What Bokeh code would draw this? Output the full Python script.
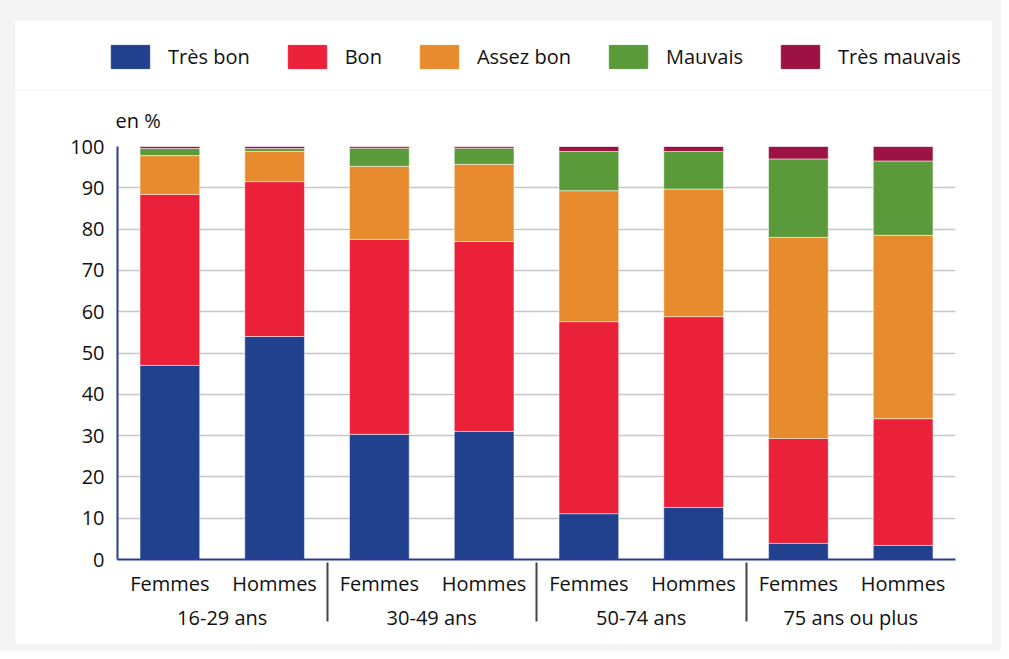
from bokeh.plotting import figure
from bokeh.models import FactorRange, Range1d, FixedTicker, Legend, LegendItem, Title, ColumnDataSource
from bokeh.layouts import column
from bokeh.embed import file_html
from bokeh.resources import INLINE

groups = ["16-29 ans", "30-49 ans", "50-74 ans", "75 ans ou plus"]
sexes = ["Femmes", "Hommes"]
categories = ["Très bon", "Bon", "Assez bon", "Mauvais", "Très mauvais"]

tres_bon = [47.0, 54.0, 30.3, 31.0, 11.1, 12.6, 3.9, 3.4]
bon = [41.4, 37.5, 47.2, 46.0, 46.5, 46.2, 25.4, 30.7]
assez_bon = [9.4, 7.3, 17.7, 18.7, 31.7, 30.9, 48.7, 44.4]
mauvais = [1.7, 0.7, 4.4, 3.9, 9.5, 9.1, 19.0, 18.0]
tres_mauvais = [0.5, 0.5, 0.4, 0.4, 1.2, 1.2, 3.0, 3.5]

y_ticks = [0, 10, 20, 30, 40, 50, 60, 70, 80, 90, 100]
colors = ["#21408e", "#eb2139", "#e88b2e", "#5a9a3a", "#9b1243"]

FONT = "Open Sans"
x_factors = [(g, s) for g in groups for s in sexes]
keys = ["tb", "b", "ab", "m", "tm"]
source = ColumnDataSource(dict(x=x_factors, tb=tres_bon, b=bon, ab=assez_bon, m=mauvais, tm=tres_mauvais))

# ---- legend strip (separate figure so the legend is not clipped) ----
lf = figure(
    x_range=FactorRange(*x_factors), y_range=Range1d(200, 300),
    width=977, height=70, output_backend="svg", toolbar_location=None,
    min_border_left=0, min_border_right=0, min_border_top=0, min_border_bottom=0,
)
lf.frame_align = False
lf.axis.visible = False
lf.grid.visible = False
lf.outline_line_color = None
lf.border_fill_color = "white"
lf.background_fill_color = "white"
lrs = lf.vbar_stack(keys, x="x", width=0.57, color=colors, source=source)
legend = Legend(items=[LegendItem(label=c, renderers=[r]) for c, r in zip(categories, lrs)],
                orientation="horizontal", location=(91, 19),
                glyph_width=48, glyph_height=29, label_standoff=14, spacing=33,
                label_text_font=FONT, label_text_font_size="20px", label_text_color="#111111",
                border_line_color=None, background_fill_alpha=0, padding=0, margin=0)
lf.add_layout(legend, "center")

# ---- main chart ----
p = figure(
    x_range=FactorRange(*x_factors, factor_padding=0, group_padding=0, range_padding=0),
    y_range=Range1d(0, 100),
    width=977, height=554,
    output_backend="svg", toolbar_location=None,
    min_border_left=102, min_border_right=37, min_border_top=56, min_border_bottom=85,
    title=Title(text="en %", align="left", text_font=FONT, text_font_size="20px",
                text_font_style="normal", text_color="#111111", offset=-2, standoff=25),
)
p.frame_align = False
p.outline_line_color = None
p.background_fill_color = "white"
p.border_fill_color = "white"

p.vbar_stack(keys, x="x", width=0.57, color=colors, source=source,
             line_color="white", line_alpha=0.5, line_width=1)

p.yaxis.ticker = FixedTicker(ticks=y_ticks)
p.yaxis.axis_line_color = "#2a3a9a"
p.yaxis.axis_line_width = 2
p.yaxis.major_tick_line_color = None
p.yaxis.minor_tick_line_color = None
p.yaxis.major_label_text_font = FONT
p.yaxis.major_label_text_font_size = "20px"
p.yaxis.major_label_text_color = "#111111"
p.yaxis.major_label_standoff = 7

p.xaxis.axis_line_color = "#2a3a9a"
p.xaxis.axis_line_width = 2
p.xaxis.major_tick_line_color = None
p.xaxis.minor_tick_line_color = None
p.xaxis.major_label_text_font = FONT
p.xaxis.major_label_text_font_size = "20px"
p.xaxis.major_label_text_color = "#111111"
p.xaxis.group_text_font = FONT
p.xaxis.group_text_font_size = "20px"
p.xaxis.group_text_color = "#111111"
p.xaxis.group_text_font_style = "normal"
p.xaxis.major_label_standoff = 4
try:
    p.xaxis.separator_line_color = "#444444"
    p.xaxis.separator_line_width = 2
except Exception:
    pass

p.xgrid.grid_line_color = None
p.ygrid.grid_line_color = "#c6c6c6"
p.ygrid.grid_line_width = 1.5

layout = column(lf, p, spacing=0,
                styles={"background-color": "#f4f4f4", "padding": "20px 9px 7px 15px"})
open("out.html", "w").write(file_html(layout, INLINE))
